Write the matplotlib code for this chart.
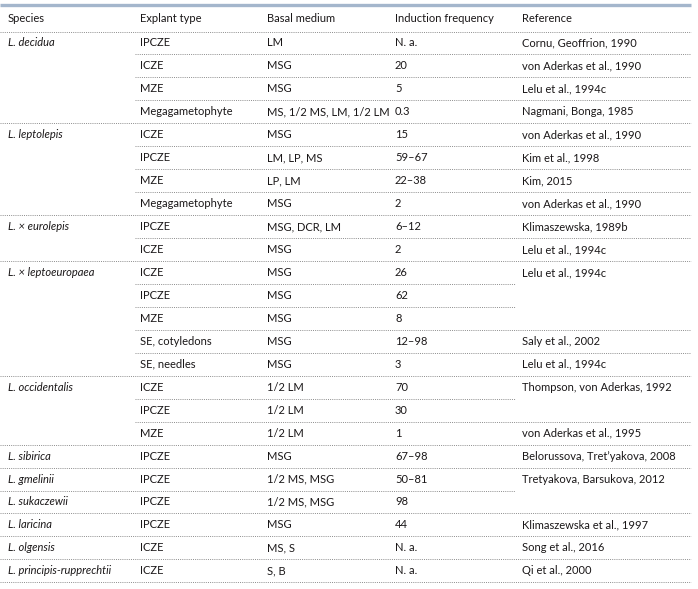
import matplotlib.pyplot as plt
from matplotlib.lines import Line2D

# table contents, one entry per row; "" means the cell above is merged down
headers = ["Species", "Explant type", "Basal medium", "Induction frequency", "Reference"]

species = [
    "L. decidua", "", "", "",
    "L. leptolepis", "", "", "",
    "L. × eurolepis", "",
    "L. × leptoeuropaea", "", "", "", "",
    "L. occidentalis", "", "",
    "L. sibirica", "L. gmelinii", "L. sukaczewii", "L. laricina",
    "L. olgensis", "L. principis-rupprechtii",
]
explant = [
    "IPCZE", "ICZE", "MZE", "Megagametophyte",
    "ICZE", "IPCZE", "MZE", "Megagametophyte",
    "IPCZE", "ICZE",
    "ICZE", "IPCZE", "MZE", "SE, cotyledons", "SE, needles",
    "ICZE", "IPCZE", "MZE",
    "IPCZE", "IPCZE", "IPCZE", "IPCZE", "ICZE", "ICZE",
]
medium = [
    "LM", "MSG", "MSG", "MS, 1/2 MS, LM, 1/2 LM",
    "MSG", "LM, LP, MS", "LP, LM", "MSG",
    "MSG, DCR, LM", "MSG",
    "MSG", "MSG", "MSG", "MSG", "MSG",
    "1/2 LM", "1/2 LM", "1/2 LM",
    "MSG", "1/2 MS, MSG", "1/2 MS, MSG", "MSG", "MS, S", "S, B",
]
frequency = [
    "N. a.", "20", "5", "0.3",
    "15", "59–67", "22–38", "2",
    "6–12", "2",
    "26", "62", "8", "12–98", "3",
    "70", "30", "1",
    "67–98", "50–81", "98", "44", "N. a.", "N. a.",
]
reference = [
    "Cornu, Geoffrion, 1990", "von Aderkas et al., 1990", "Lelu et al., 1994c", "Nagmani, Bonga, 1985",
    "von Aderkas et al., 1990", "Kim et al., 1998", "Kim, 2015", "von Aderkas et al., 1990",
    "Klimaszewska, 1989b", "Lelu et al., 1994c",
    "Lelu et al., 1994c", "", "", "Saly et al., 2002", "Lelu et al., 1994c",
    "Thompson, von Aderkas, 1992", "", "von Aderkas et al., 1995",
    "Belorussova, Tret’yakova, 2008", "Tretyakova, Barsukova, 2012", "",
    "Klimaszewska et al., 1997", "Song et al., 2016", "Qi et al., 2000",
]

W, H = 698, 589
col_x = [8, 140, 267, 395, 522]
sep_explant = 135
sep_ref = 515
right = 691
header_top = 4.5
header_line = 31.5
row_h = 22.95

text_color = "#1a1718"
dot_color = "#8c8c8c"
font = ["Lato", "DejaVu Sans"]
fs = 8.0

fig = plt.figure(figsize=(W / 100, H / 100), dpi=100)
ax = fig.add_axes([0, 0, 1, 1])
ax.set_xlim(0, W)
ax.set_ylim(H, 0)
ax.axis("off")


def hline(y, x0, x1):
    ax.add_line(Line2D([x0, x1], [y, y], color=dot_color, lw=0.7,
                       linestyle=(0, (1, 1.2))))


# thick rule on top
ax.add_line(Line2D([0, right], [header_top, header_top], color="#a4b6cc", lw=2.4,
                   solid_capstyle="butt"))

for x, h in zip(col_x, headers):
    ax.text(x, (header_top + header_line) / 2 + 0.5, h, fontsize=fs, family=font,
            color=text_color, va="center", ha="left")
hline(header_line, 0, right)

n = len(explant)
for i in range(n):
    top = header_line + i * row_h
    yc = top + row_h / 2
    cells = [species[i], explant[i], medium[i], frequency[i], reference[i]]
    for j, (x, t) in enumerate(zip(col_x, cells)):
        if not t:
            continue
        ax.text(x, yc, t, fontsize=fs, family=font, color=text_color,
                va="center", ha="left", style="italic" if j == 0 else "normal")
    bottom = top + row_h
    if i + 1 < n:
        x0 = 0 if species[i + 1] else sep_explant
        x1 = right if reference[i + 1] else sep_ref
    else:
        x0, x1 = 0, right
    hline(bottom, x0, x1)

fig.savefig("out.png", dpi=100)
